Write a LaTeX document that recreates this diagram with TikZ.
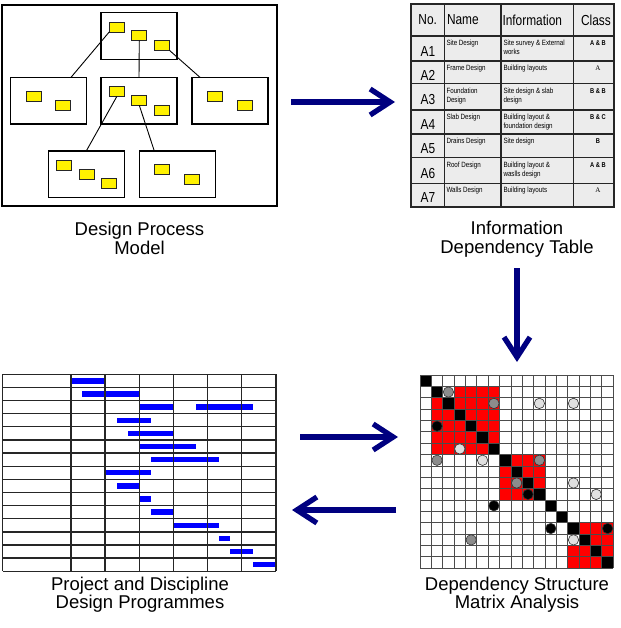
\documentclass[tikz,border=0pt]{standalone}
\usepackage{fontspec}
\setmainfont{Liberation Sans}
\newfontfamily\narrowfont[FakeStretch=0.82]{Liberation Sans}
\newfontfamily\romanfont{Liberation Serif}
\usetikzlibrary{calc, positioning}
\usetikzlibrary{arrows.meta}
\definecolor{arrowblue}{RGB}{0,0,128}
\definecolor{tablegray}{RGB}{236,236,236}
\def\cs{11.37}
\def\gu{11.38}
\def\rh{13.13}
\tikzset{
    modelframe/.style = {draw, rectangle, line width=2.6pt},
    stagebox/.style = {draw, rectangle, line width=1.2pt, minimum width=76pt, minimum height=46.7pt},
    task/.style = {draw=black!85, fill=yellow, rectangle, line width=0.8pt, minimum width=15pt, minimum height=10pt},
    link/.style = {line width=0.9pt},
    caption/.style = {align=center, font=\fontsize{18.5}{18.5}\selectfont},
    tablebox/.style = {draw=black!85, fill=tablegray, rectangle, line width=2pt},
    tableline/.style = {draw=black!85, line width=1.5pt},
    headtext/.style = {font=\narrowfont\fontsize{14.5}{16}\selectfont},
    celltext/.style = {align=left, font=\narrowfont\fontsize{7.6}{9.3}\selectfont},
    classtext/.style = {font=\narrowfont\bfseries\fontsize{7}{8}\selectfont},
    ganttline/.style = {draw=black!85, line width=1.3pt},
    ganttbar/.style = {fill=blue},
    dsmgrid/.style = {draw=black!70, line width=0.9pt},
    dsmdot/.style = {draw=black!80, line width=0.6pt},
    bigarrow/.style = {draw=arrowblue, line width=5.3pt, -{Straight Barb[length=20pt,width=26pt,sharp]}},
    pics/ThreeTask/.style = {
        code = {
            \node [stagebox] (-box) {};
            \node [task] (-a) at (-22.3,-9) {};
            \node [task] (-b) at (0.3,-0.3) {};
            \node [task] (-c) at (23,9.4) {};
    }},
    pics/TwoTask/.style = {
        code = {
            \node [stagebox] (-box) {};
            \node [task] (-a) at (-15.3,-4.6) {};
            \node [task] (-b) at (14.5,4.7) {};
    }}
}

\begin{document}
\begin{tikzpicture}[x=1pt, y=-1pt, every node/.style={inner sep=0pt, outer sep=0pt}]
    \useasboundingbox (0,0) rectangle (620,628);
    % Design process model
    \node [modelframe, minimum width=275pt, minimum height=201pt] (dpm) at (139.5,105.5) {};
    \pic (s1) at (139,36) {ThreeTask};
    \pic (s2) at (48.7,100.7) {TwoTask};
    \pic (s3) at (139,100.7) {ThreeTask};
    \pic (s4) at (230,100.7) {TwoTask};
    \pic (s5) at (86.3,174.3) {ThreeTask};
    \pic (s6) at (177.3,174.3) {TwoTask};
    \draw [link] (s1-a.south west) -- ([xshift=22.3pt] s2-box.north);
    \draw [link] (s1-b.south) -- (s3-box.north);
    \draw [link] (s1-c.south east) -- ([xshift=-30pt] s4-box.north);
    \draw [link] (s3-a.south) -- (s5-box.north);
    \draw [link] (s3-b.south) -- ([xshift=-23pt] s6-box.north);
    \node [caption] (dpmcap) at (139.5,238.5) {Design Process\\Model};

    % Information dependency table
    \node [tablebox, minimum width=203pt, minimum height=202.7pt] (idt) at (512.5,105.35) {};
    \foreach \x in {444.3, 501, 573.3}{
        \draw [tableline] (\x,4) -- (\x,206.7);
    }
    \draw [tableline, line width=2.4pt] (411,36) -- (614,36);
    \node [headtext] (hno) at (427.7,20) {No.};
    \node [headtext, anchor=west] (hname) at (447,20) {Name};
    \node [headtext, anchor=west] (hinfo) at (502.5,20) {Information};
    \node [headtext] (hclass) at (596,20) {Class};
    \foreach \id/\ytop/\ybot/\nm/\info/\cls in {
        A1/36/61/{Site Design}/{Site survey \& External\\works}/{A \& B},
        A2/61/83.5/{Frame Design}/{Building layouts}/{\romanfont\mdseries A},
        A3/83.5/110/{Foundation\\Design}/{Site design \& slab\\design}/{B \& B},
        A4/110/134/{Slab Design}/{Building layout \&\\foundation design}/{B \& C},
        A5/134/157.7/{Drains Design}/{Site design}/{B},
        A6/157.7/183.3/{Roof Design}/{Building layout \&\\waslls design}/{A \& B},
        A7/183.3/206.7/{Walls Design}/{Building layouts}/{\romanfont\mdseries A}}{
        \draw [tableline] (411,\ybot) -- (614,\ybot);
        \node [headtext] (id\id) at (428, {(\ytop+\ybot)/2+3}) {\id};
        \node [celltext, anchor=north west] (nm\id) at (446.5, {\ytop+4}) {\nm};
        \node [celltext, anchor=north west] (info\id) at (503.5, {\ytop+4}) {\info};
        \node [classtext, anchor=north] (cls\id) at (598, {\ytop+5}) {\cls};
    }
    \node [caption] (idtcap) at (517,239) {Information\\Dependency Table};

    % Dependency structure matrix
    \foreach \a/\b in {1/7, 7/11, 13/17}{
        \fill [red] ({420+\a*\cs},{375+\a*\cs}) rectangle ({420+\b*\cs},{375+\b*\cs});
    }
    \foreach \r/\c in {1/2, 14/13}{
        \fill [white] ({420+\c*\cs},{375+\r*\cs}) rectangle ({420+(\c+1)*\cs},{375+(\r+1)*\cs});
    }
    \foreach \k in {0,...,16}{
        \fill [black] ({420+\k*\cs},{375+\k*\cs}) rectangle ({420+(\k+1)*\cs},{375+(\k+1)*\cs});
    }
    \foreach \k in {0,...,17}{
        \draw [dsmgrid] ({420+\k*\cs},375) -- ({420+\k*\cs},{375+17*\cs});
        \draw [dsmgrid] (420,{375+\k*\cs}) -- ({420+17*\cs},{375+\k*\cs});
    }
    \node [minimum width=193.3pt, minimum height=193.3pt] (dsm) at (516.6,471.6) {};
    \foreach \r/\c/\shade in {1/2/black!45, 2/6/black!45, 2/10/black!12, 2/13/black!12,
        4/1/black, 6/3/black!12, 7/1/black!45, 7/5/black!12, 7/10/black!45,
        9/8/black!45, 9/13/black!12, 10/9/black, 10/15/black!12, 11/6/black,
        13/11/black, 13/16/black, 14/4/black!45, 14/13/black!12}{
        \draw [dsmdot, fill=\shade] ({420+(\c+0.5)*\cs},{375+(\r+0.5)*\cs}) circle (5.2pt);
    }
    \node [caption] (dsmcap) at (517,594.5) {Dependency Structure\\Matrix Analysis};

    % Design programmes
    \foreach \r/\a/\b in {0/0/3, 1/1/6, 2/6/9, 2/11/16, 3/4/7, 4/5/9, 5/6/11, 6/7/13,
        7/3/7, 8/4/6, 9/6/7, 10/7/9, 11/9/13, 12/13/14, 13/14/16, 14/16/18}{
        \fill [ganttbar] ({71+\a*\gu},{374.3+(\r+0.5)*\rh-2.7}) rectangle ({71+\b*\gu},{374.3+(\r+0.5)*\rh+2.7});
    }
    \foreach \k in {0,...,15}{
        \draw [ganttline] (2.7,{374.3+\k*\rh}) -- (276,{374.3+\k*\rh});
    }
    \foreach \x in {2.7, 71, 105.1, 139.3, 173.4, 207.6, 241.8, 276}{
        \draw [ganttline] (\x,374.3) -- (\x,571.3);
    }
    \node [minimum width=273.3pt, minimum height=197pt] (gnt) at (139.35,472.8) {};
    \node [caption] (gntcap) at (140,594.5) {Project and Discipline\\Design Programmes};

    % Flow between the stages
    \coordinate (a1s) at (291,102);
    \coordinate (a1e) at (395,102);
    \coordinate (a2s) at (517,268);
    \coordinate (a2e) at (517,362);
    \coordinate (a3s) at (300,437);
    \coordinate (a3e) at (398,437);
    \coordinate (a4s) at (396,510);
    \coordinate (a4e) at (292,510);
    \foreach \n in {1,2,3,4}{
        \draw [bigarrow] (a\n s) -- (a\n e);
    }
\end{tikzpicture}
\end{document}
